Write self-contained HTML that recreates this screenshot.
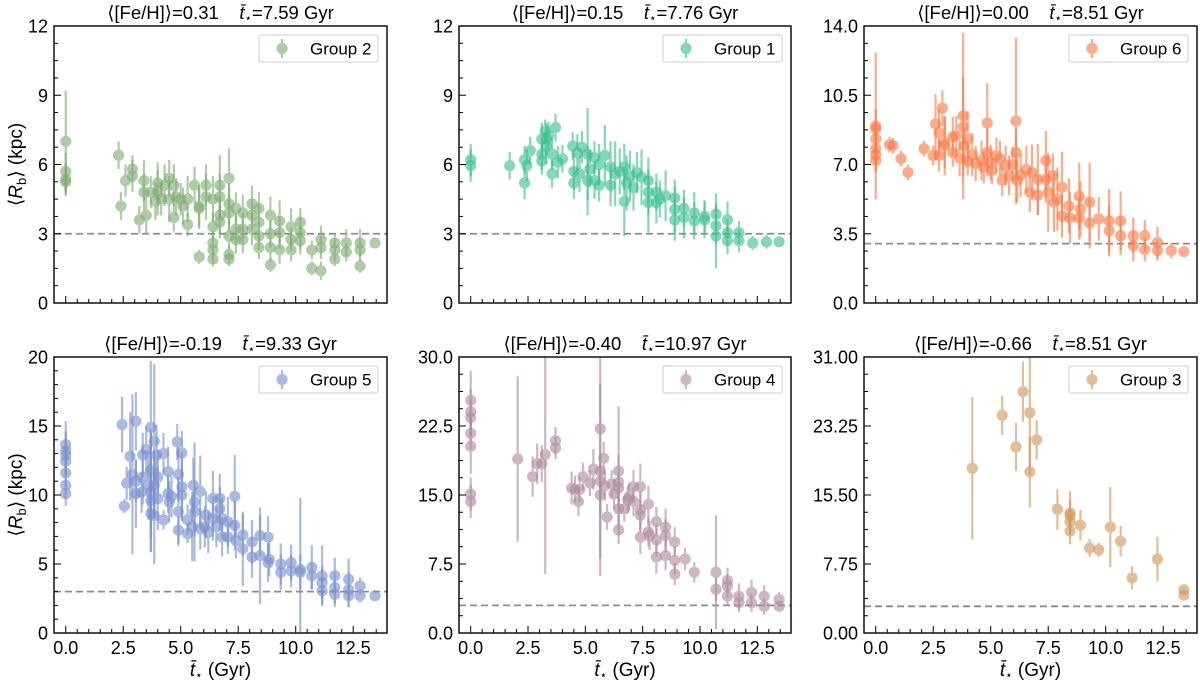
<!DOCTYPE html>
<html><head><meta charset="utf-8"><style>
html,body{margin:0;padding:0;background:#fff;}
svg{display:block;font-family:"Liberation Sans","DejaVu Sans",sans-serif;}
</style></head><body>
<svg id="fig" width="1200" height="684" viewBox="0 0 1200 684" xmlns="http://www.w3.org/2000/svg"></svg>
<script>
// ---------- data ----------
const g2_x=[0,0,0,0,2.3,2.4,2.6,2.9,2.9,3.2,3.4,3.4,3.5,3.7,3.9,4.0,4.0,4.15,4.3,4.5,4.5,4.7,4.7,4.8,5.0,5.1,5.3,5.3,5.6,5.8,5.8,5.8,6.1,6.1,6.4,6.4,6.4,6.4,6.4,6.7,6.7,6.7,6.7,7.1,7.1,7.1,7.1,7.1,7.1,7.4,7.4,7.4,7.7,7.7,7.7,8.1,8.1,8.1,8.4,8.4,8.4,8.4,8.9,8.9,8.9,8.9,9.3,9.3,9.3,9.8,9.8,9.8,10.2,10.2,10.2,10.7,10.7,11.1,11.1,11.1,11.7,11.7,11.7,12.2,12.2,12.8,12.8,12.8,13.45];
const g2_y=[7.0,5.7,5.35,5.25,6.4,4.2,5.3,5.8,5.5,3.6,5.3,4.8,3.8,4.8,4.4,5.2,4.8,4.5,5.1,5.4,4.5,3.7,5.1,4.6,4.5,4.2,3.4,4.5,5.1,4.1,2.0,4.2,5.1,4.6,3.3,2.6,2.3,1.9,4.5,5.1,4.6,3.8,3.5,5.4,4.3,3.9,2.9,2.1,1.9,4.1,3.2,2.75,3.9,3.2,2.75,4.3,3.8,3.2,4.1,3.5,2.9,2.4,3.8,3.0,2.4,1.65,3.55,3.05,2.3,3.3,2.75,2.3,3.5,3.05,2.7,2.3,1.5,2.75,2.4,1.4,2.6,2.3,1.9,2.6,2.2,2.6,2.3,1.6,2.6];
const g2_err=[2.2,0.8,0.7,0.6,0.6,0.6,0.7,0.6,0.7,0.6,0.9,0.8,0.8,0.7,0.8,0.9,1.0,0.7,0.9,0.8,1.0,0.6,0.9,0.8,0.7,0.8,0.5,1.0,0.8,0.9,0.3,0.9,0.9,1.0,0.6,0.5,0.6,0.3,1.0,1.3,1.0,0.8,0.7,1.3,0.9,0.8,0.6,0.4,0.3,0.7,0.7,0.6,0.8,0.7,0.6,0.8,0.7,0.7,0.7,0.8,0.6,0.5,0.8,0.6,0.6,0.3,0.9,0.7,0.6,0.8,0.5,0.5,0.6,0.7,0.6,0.4,0.3,0.6,0.5,0.4,0.4,0.5,0.3,0.6,0.4,0.6,0.5,0.3,0.2];

const g1_x=[0,0,1.7,2.35,2.35,2.45,2.6,3.1,3.1,3.1,3.25,3.3,3.3,3.4,3.55,3.55,3.7,3.8,4.0,4.45,4.5,4.5,4.65,4.75,4.85,5.1,5.1,5.2,5.4,5.4,5.6,5.6,5.85,6.1,6.1,6.3,6.5,6.7,6.7,6.8,6.95,7.1,7.25,7.45,7.75,7.75,7.75,8.1,8.1,8.25,8.5,8.9,8.9,8.9,9.3,9.3,9.75,9.75,10.2,10.2,10.7,10.7,10.7,11.2,11.2,11.2,11.7,11.7,12.3,12.9,13.45];
const g1_y=[6.2,5.95,5.95,6.2,5.2,5.95,6.6,7.1,6.45,6.15,7.45,7.1,6.8,7.25,6.45,5.6,7.6,6.1,6.25,6.8,5.7,5.2,6.5,5.6,6.75,6.45,5.3,5.8,6.3,5.3,6.0,5.1,6.4,5.9,5.1,5.6,5.7,5.9,4.4,5.2,5.5,5.0,5.65,5.45,5.3,4.8,4.35,4.8,4.35,4.5,4.65,4.55,4.05,3.6,4.1,3.7,3.9,3.55,3.75,3.6,3.85,3.35,2.9,3.6,3.05,2.7,3.05,2.7,2.6,2.65,2.65];
const g1_err=[0.7,0.7,0.6,0.6,0.7,0.7,0.6,0.7,0.7,0.6,0.5,0.7,0.8,0.6,0.7,0.6,0.6,0.7,0.6,0.6,0.8,0.7,0.8,0.8,0.7,2.0,1.5,0.8,0.7,0.8,0.9,0.7,1.3,1.1,0.9,1.4,1.0,1.0,1.5,1.2,1.1,1.0,0.9,1.2,1.0,1.0,1.3,0.8,0.9,0.8,1.1,0.8,1.0,0.9,0.8,0.9,0.9,0.8,0.7,0.8,0.9,0.8,1.4,0.8,0.6,0.6,0.5,0.5,0.3,0.3,0.15];

const g6_x=[0,0,0,0,0,0,0.6,0.75,1.1,1.4,2.1,2.5,2.6,2.75,2.75,2.9,3.0,3.0,3.35,3.35,3.5,3.65,3.8,3.8,3.85,4.0,4.0,4.2,4.35,4.6,4.7,4.85,4.85,5.0,5.05,5.25,5.4,5.5,5.65,5.8,5.95,6.1,6.1,6.15,6.3,6.55,6.7,6.8,7.05,7.05,7.4,7.4,7.5,7.7,7.75,7.9,8.1,8.1,8.4,8.45,8.85,8.85,8.9,9.3,9.3,9.7,10.15,10.15,10.65,10.65,11.2,11.2,11.7,11.7,12.25,12.25,12.85,13.4];
const g6_y=[8.95,8.8,8.3,7.8,7.5,7.2,8.0,7.95,7.3,6.6,7.8,7.45,9.05,8.6,7.45,9.85,8.1,7.95,7.6,8.4,8.45,7.3,9.45,8.9,7.95,7.15,8.3,7.5,7.05,7.2,6.85,9.1,7.6,7.1,6.7,7.45,7.3,6.2,6.95,6.45,7.0,7.6,9.2,6.2,6.45,6.75,5.6,6.6,6.25,5.45,7.2,6.25,5.6,6.45,5.1,5.25,5.85,4.4,4.9,4.3,5.4,4.3,4.75,5.1,4.05,4.25,4.15,3.65,4.15,3.4,3.4,2.9,3.4,2.7,3.05,2.65,2.65,2.6];
const g6_err=[3.7,1.0,0.8,0.8,0.7,0.6,0.4,0.4,0.4,0.4,0.4,0.5,1.5,1.2,0.8,0.9,1.3,1.5,0.7,1.0,1.0,0.9,4.2,2.5,0.9,0.7,1.4,1.1,0.9,1.0,0.8,2.0,1.2,0.9,0.7,0.9,0.9,0.8,1.0,1.0,0.9,1.2,4.2,1.1,1.1,1.2,1.0,1.4,1.8,1.0,1.5,1.2,2.0,1.1,1.5,1.6,1.8,1.1,1.4,1.3,1.7,1.1,1.4,2.0,1.3,1.1,1.6,1.3,1.5,1.0,0.9,0.8,0.8,0.6,0.8,0.5,0.4,0.2];

const g5_x=[0,0,0,0,0,0,0,2.45,2.55,2.65,2.8,2.9,3.05,3.05,3.05,3.3,3.35,3.35,3.5,3.6,3.7,3.7,3.7,3.7,3.7,3.85,3.85,3.85,3.95,4.0,4.0,4.25,4.25,4.45,4.45,4.5,4.6,4.85,4.9,4.9,4.9,5.05,5.05,5.05,5.3,5.3,5.5,5.55,5.6,5.6,5.85,5.85,6.05,6.1,6.2,6.4,6.4,6.55,6.7,6.7,6.8,6.8,7.05,7.05,7.35,7.35,7.4,7.7,7.7,8.1,8.1,8.45,8.45,8.8,8.8,8.85,9.35,9.35,9.8,9.8,10.2,10.2,10.7,10.7,11.15,11.15,11.15,11.7,11.7,11.7,12.3,12.3,12.3,12.8,12.8,13.45];
const g5_y=[13.65,13.2,12.9,12.45,11.6,10.7,10.1,15.1,9.2,10.85,12.8,11.5,15.35,11.0,10.1,10.2,12.9,11.3,13.3,10.7,14.9,11.8,10.2,9.6,8.65,13.9,10.7,8.5,12.9,11.3,9.75,13.0,8.2,11.7,10.1,9.5,9.9,13.85,11.5,8.8,7.45,13.05,10.6,10.0,8.2,7.2,7.7,10.7,8.8,9.5,10.25,7.55,7.7,8.55,7.3,9.75,8.3,7.7,9.75,9.0,8.3,6.95,8.05,6.95,9.9,7.8,6.7,7.1,6.1,6.6,5.5,5.6,7.05,6.95,5.1,5.35,5.0,4.4,5.1,4.5,4.6,4.4,4.75,4.15,4.15,3.65,3.05,4.15,3.3,2.8,3.9,3.15,2.7,3.4,2.7,2.7];
const g5_err=[1.7,1.4,1.2,1.1,1.0,1.0,0.9,2.0,0.5,1.2,3.2,5.8,2.1,1.5,2.5,1.5,1.6,2.0,1.7,2.5,4.8,3.0,4.3,2.7,2.8,5.6,2.4,3.5,2.2,2.0,2.3,1.5,0.7,1.8,1.4,1.5,1.5,1.3,2.0,2.5,1.0,1.6,2.5,1.8,1.1,0.7,2.5,2.0,1.8,4.3,2.6,1.5,1.5,1.7,1.5,2.0,1.6,1.5,1.8,1.6,1.5,1.4,1.8,1.2,3.0,1.8,1.3,1.5,2.7,1.6,1.5,3.5,1.5,1.5,1.4,1.2,1.5,1.3,1.3,1.2,5.2,1.3,1.6,1.0,2.2,1.2,1.0,1.3,1.2,0.9,1.5,1.3,0.8,0.6,0.5,0.3];

const g4_x=[0,0,0,0,0,0,0,2.05,2.7,2.9,3.1,3.25,3.7,3.7,4.4,4.55,4.7,4.75,4.9,5.2,5.35,5.65,5.65,5.65,5.65,5.8,5.85,5.95,6.15,6.25,6.45,6.45,6.45,6.45,6.45,6.7,6.85,6.9,7.1,7.1,7.4,7.4,7.4,7.4,7.75,7.75,7.8,8.1,8.1,8.1,8.5,8.5,8.5,8.9,8.9,8.9,9.35,9.75,10.7,10.7,11.2,11.2,11.2,11.7,11.7,12.25,12.25,12.8,12.8,13.45,13.45];
const g4_y=[25.3,24.05,23.4,21.7,20.3,15.1,14.3,18.9,17.0,18.4,18.4,19.4,20.9,20.1,15.75,15.6,14.3,15.6,17.0,16.3,17.8,22.2,17.6,16.5,15.0,19.0,16.0,12.6,16.2,15.1,17.6,16.4,15.75,13.5,11.2,13.5,14.5,14.8,15.9,14.3,15.9,13.4,12.8,10.4,14.0,11.0,10.6,12.1,10.1,8.25,11.5,10.6,8.4,9.9,7.9,6.4,8.05,6.6,6.6,4.75,5.7,5.1,4.0,4.0,3.3,4.4,3.3,4.0,2.9,3.65,2.9];
const g4_err=[3.2,2.5,2.0,1.8,3.0,1.8,1.8,9.0,2.2,2.2,2.0,13.0,1.5,1.2,1.8,1.5,1.6,1.4,1.5,1.4,2.2,16.0,9.5,2.0,2.2,1.8,1.6,1.4,1.5,1.6,7.0,3.0,1.5,1.8,1.5,1.4,1.5,1.5,1.8,1.6,2.5,2.0,1.8,1.8,2.0,1.6,1.6,1.6,1.8,1.8,2.0,1.8,1.6,1.6,1.6,1.2,1.2,1.1,6.2,1.3,1.4,1.3,1.0,1.4,1.0,1.4,1.0,1.2,0.9,0.8,0.6];

const g3_x=[4.2,5.5,6.1,6.4,6.7,6.7,7.0,7.9,8.45,8.45,8.45,8.45,8.9,9.3,9.7,10.2,10.65,11.15,12.25,13.4,13.4];
const g3_y=[18.5,24.45,20.9,27.1,24.75,18.1,21.7,13.9,13.5,13.2,12.5,11.45,12.1,9.55,9.35,11.9,10.3,6.2,8.3,4.85,4.25];
const g3_err=[8.0,2.2,2.7,3.4,7.0,4.0,2.2,2.3,2.4,1.8,1.5,1.5,1.7,1.0,0.8,4.5,1.7,1.3,2.5,0.5,0.4];

// panel meta
const groupNames=["Group 2","Group 1","Group 6","Group 5","Group 4","Group 3"];
const fehValues=["0.31","0.15","0.00","-0.19","-0.40","-0.66"];
const ageValues=["7.59","7.76","8.51","9.33","10.97","8.51"];
const yMaxes=[12,12,14,20,30,31];
const yTickLabels=[["0","3","6","9","12"],["0","3","6","9","12"],["0.0","3.5","7.0","10.5","14.0"],["0","5","10","15","20"],["0.0","7.5","15.0","22.5","30.0"],["0.00","7.75","15.50","23.25","31.00"]];
const yMinorDiv=[4,4,4,5,4,4];
const xTickLabels=["0.0","2.5","5.0","7.5","10.0","12.5"];
const refLine=3;

const xsAll=[g2_x,g1_x,g6_x,g5_x,g4_x,g3_x];
const ysAll=[g2_y,g1_y,g6_y,g5_y,g4_y,g3_y];
const esAll=[g2_err,g1_err,g6_err,g5_err,g4_err,g3_err];
const colors=["#7fac72","#3cbf8f","#fc7a45","#7890cc","#ad8c9f","#d29658"];

// layout
const cols=[[54,387],[459,791],[864,1197]];
const rows=[[26,303],[357,633]];
const XMIN=-0.51, XMAX=13.97;
const NS="http://www.w3.org/2000/svg";
const svg=document.getElementById("fig");
function mk(tag,attrs,parent){const e=document.createElementNS(NS,tag);for(const k in attrs)e.setAttribute(k,attrs[k]);(parent||svg).appendChild(e);return e;}

for(let p=0;p<6;p++){
  const [L,R]=cols[p%3],[T,B]=rows[Math.floor(p/3)];
  const ymax=yMaxes[p];
  const sx=v=>L+(v-XMIN)/(XMAX-XMIN)*(R-L);
  const sy=v=>B-(v/ymax)*(B-T);
  const g=mk("g",{});
  
  
  const cid="clip"+p;
  const cp=mk("clipPath",{id:cid},g);mk("rect",{x:L,y:T,width:R-L,height:B-T},cp);
  const plot=mk("g",{"clip-path":"url(#"+cid+")"},g);
  const dl=mk("line",{x1:L,x2:R,y1:sy(refLine),y2:sy(refLine),stroke:"#8c8c8c","stroke-width":1.8,"stroke-dasharray":"7,4"},plot);
  
  
  const xs=xsAll[p],ys=ysAll[p],es=esAll[p];
  for(let i=0;i<xs.length;i++){
    const e=(es[i]!==undefined)?es[i]:0.6;
    const pg=mk("g",{opacity:0.62},plot);
    
    
    mk("line",{x1:sx(xs[i]),x2:sx(xs[i]),y1:sy(ys[i]-e),y2:sy(ys[i]+e),stroke:colors[p],"stroke-width":2.2},pg);
    mk("circle",{cx:sx(xs[i]),cy:sy(ys[i]),r:5.6,fill:colors[p]},pg);
  }
  const fr=mk("rect",{x:L,y:T,width:R-L,height:B-T,fill:"none",stroke:"#000","stroke-width":1.4},g);
  
  
  for(let k=0;k<=27;k++){
    const v=k*0.5;if(v>XMAX)break;
    const major=(k%5===0);
    mk("line",{x1:sx(v),x2:sx(v),y1:B,y2:B-(major?7:4),stroke:"#000","stroke-width":1},g);
    if(major && p>=3){
      const t=mk("text",{x:sx(v),y:B+21,"text-anchor":"middle","font-size":18,fill:"#000"},g);
      t.textContent=xTickLabels[k/5];
      
      
    }
  }
  const labs=yTickLabels[p],nm=labs.length-1,step=ymax/nm,md=yMinorDiv[p];
  for(let k=0;k<=nm*md;k++){
    const v=k*step/md,major=(k%md===0);
    mk("line",{x1:L,x2:L+(major?7:4),y1:sy(v),y2:sy(v),stroke:"#000","stroke-width":1},g);
    if(major){
      const t=mk("text",{x:L-6,y:sy(v)+6.5,"text-anchor":"end","font-size":18,fill:"#000"},g);
      t.textContent=labs[k/md];
      
      
    }
  }
  const tt=mk("text",{x:(L+R)/2,y:T-7,"text-anchor":"middle","font-size":18.5,fill:"#000"},g);
  
  
  tt.innerHTML='⟨[Fe/H]⟩='+fehValues[p]+'\u00a0\u00a0\u00a0\u00a0<tspan font-style="italic">t̄</tspan><tspan font-size="12" dy="3">⋆</tspan><tspan dy="-3">='+ageValues[p]+' Gyr</tspan>';
  const lg=mk("g",{},g);
  
  
  mk("rect",{x:R-128,y:T+9,width:119,height:27,fill:"#fff",stroke:"#ccc","stroke-width":1,rx:2},lg);
  const lm=mk("g",{opacity:0.62},lg);
  mk("line",{x1:R-105,x2:R-105,y1:T+13,y2:T+32,stroke:colors[p],"stroke-width":2.2},lm);
  mk("circle",{cx:R-105,cy:T+22.5,r:5.6,fill:colors[p]},lm);
  const lt=mk("text",{x:R-77,y:T+28.5,"font-size":17,fill:"#000"},lg);
  lt.textContent=groupNames[p];
  
  
  if(p%3===0){
    const yl=mk("text",{transform:"translate(22,"+((T+B)/2)+") rotate(-90)","text-anchor":"middle","font-size":19,fill:"#000"},g);
    
    
    yl.innerHTML='⟨<tspan font-style="italic">R</tspan><tspan font-size="13" dy="4">b</tspan><tspan dy="-4">⟩ (kpc)</tspan>';
  }
  if(p>=3){
    const xl=mk("text",{x:(L+R)/2,y:676,"text-anchor":"middle","font-size":19,fill:"#000"},g);
    
    
    xl.innerHTML='<tspan font-style="italic">t̄</tspan><tspan font-size="12" dy="3">⋆</tspan><tspan dy="-3"> (Gyr)</tspan>';
  }
}
</script>
</body></html>
